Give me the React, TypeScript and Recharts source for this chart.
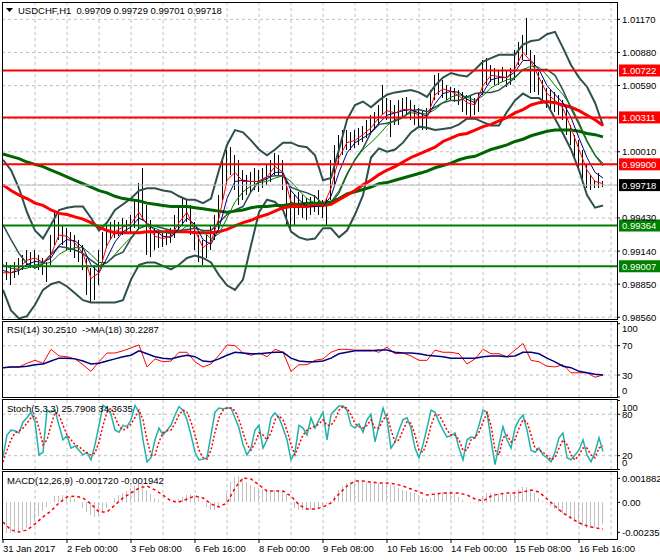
import {
  Bar,
  CartesianGrid,
  ComposedChart,
  Line,
  ReferenceLine,
  XAxis,
  YAxis
} from "recharts";

const FONT = "'Liberation Sans', Arial, sans-serif";

// H1 bars, one every 2 hours (bar index i = 2 * j)
const barHigh = [
  0.99105, 0.99044, 0.99018, 0.99044, 0.99079, 0.99105, 0.99149, 0.99131, 0.99149, 0.99105,
  0.99079, 0.99044, 0.9928, 0.995, 0.99456, 0.99368, 0.99342, 0.99307, 0.9928, 0.99237,
  0.99193, 0.99079, 0.98991, 0.99018, 0.99149, 0.99307, 0.99368, 0.99394, 0.99412, 0.99394,
  0.99429, 0.99412, 0.99456, 0.99587, 0.99736, 0.99867, 0.99543, 0.99412, 0.99342, 0.99324,
  0.99307, 0.99324, 0.99342, 0.99456, 0.99543, 0.99605, 0.99587, 0.99543, 0.99394, 0.9928,
  0.99237, 0.9928, 0.99368, 0.99456, 0.99631, 0.99937, 1.00025, 1.00052, 0.99981, 0.99937,
  0.9985, 0.99806, 0.99832, 0.99867, 0.9985, 0.99867, 0.99894, 0.99937, 0.99999, 0.99981,
  0.99937, 0.99762, 0.99675, 0.99631, 0.99657, 0.99631, 0.99605, 0.99613, 0.99631, 0.99675,
  0.99587, 0.99605, 0.99937, 1.00069, 1.00156, 1.002, 1.002, 1.00183, 1.002, 1.00218,
  1.00235, 1.00288, 1.00332, 1.00358, 1.00419, 1.00594, 1.00481, 1.00463, 1.00419, 1.00463,
  1.00481, 1.00489, 1.00463, 1.00419, 1.00393, 1.00375, 1.00393, 1.00551, 1.00682, 1.007,
  1.00638, 1.00594, 1.00577, 1.00568, 1.00551, 1.00533, 1.00507, 1.00507, 1.00481, 1.00524,
  1.00813, 1.00831, 1.0077, 1.00743, 1.00726, 1.00752, 1.00726, 1.00743, 1.00901, 1.00971,
  1.01032, 1.01181, 1.00901, 1.00857, 1.00708, 1.00638, 1.00568, 1.00551, 1.00533, 1.00507,
  1.00463, 1.00419, 1.00244, 1.00156, 1.00113, 1.00025, 0.99894, 0.99806, 0.99762, 0.99824,
  0.99753
];
const barLow = [
  0.98842, 0.98886, 0.98842, 0.98904, 0.9893, 0.98974, 0.99009, 0.98991, 0.99018, 0.98974,
  0.9893, 0.98869, 0.99018, 0.99193, 0.99237, 0.99193, 0.99149, 0.99131, 0.99079, 0.99044,
  0.98974, 0.98755, 0.98693, 0.98711, 0.98842, 0.99044, 0.99166, 0.99237, 0.99254, 0.99272,
  0.9928, 0.99289, 0.99307, 0.99342, 0.99324, 0.99412, 0.99105, 0.99088, 0.99149, 0.99166,
  0.99175, 0.99193, 0.9921, 0.99254, 0.99324, 0.99368, 0.99394, 0.9928, 0.99149, 0.99044,
  0.99018, 0.99079, 0.99149, 0.99237, 0.99324, 0.99587, 0.99718, 0.99806, 0.99675, 0.99543,
  0.99587, 0.99631, 0.99657, 0.99675, 0.99657, 0.99692, 0.99718, 0.99745, 0.99806, 0.99806,
  0.99675, 0.99368, 0.99324, 0.99368, 0.99456, 0.99429, 0.99412, 0.99456, 0.99482, 0.99456,
  0.99429, 0.99368, 0.99587, 0.99718, 0.99894, 0.99981, 1.00025, 1.00025, 1.00043, 1.00069,
  1.00095, 1.0013, 1.00156, 1.002, 1.00244, 1.00332, 1.00288, 1.00139, 1.00244, 1.00244,
  1.00305, 1.00332, 1.00288, 1.00244, 1.00218, 1.002, 1.002, 1.00358, 1.00463, 1.00507,
  1.00481, 1.00463, 1.00463, 1.00446, 1.00419, 1.00358, 1.00332, 1.00314, 1.00332, 1.00358,
  1.00507, 1.00594, 1.00621, 1.00594, 1.00594, 1.00621, 1.00577, 1.00594, 1.00638, 1.0077,
  1.00813, 1.00857, 1.00524, 1.00533, 1.00507, 1.00463, 1.00393, 1.00358, 1.00358, 1.00332,
  1.00288, 1.00156, 1.00069, 0.99937, 0.9985, 0.99736, 0.99692, 0.99675, 0.99692, 0.99692,
  0.99701
];

// indicator lines, one value every 4 hours (i = 4 * k)
const fastMa = [
  0.9895, 0.9895, 0.9899, 0.9906, 0.9908, 0.9904, 0.9911, 0.9928, 0.9927, 0.9921,
  0.9912, 0.989, 0.9895, 0.9919, 0.9931, 0.9935, 0.9938, 0.9948, 0.9937, 0.9927,
  0.9925, 0.9927, 0.9939, 0.9948, 0.9932, 0.9917, 0.9922, 0.9943, 0.9976, 0.9983,
  0.9975, 0.9975, 0.9975, 0.9979, 0.9988, 0.9983, 0.9957, 0.9954, 0.9953, 0.9954,
  0.9953, 0.9969, 0.9996, 1.0009, 1.0011, 1.0016, 1.0022, 1.0031, 1.0037, 1.0035,
  1.0038, 1.0038, 1.0032, 1.0031, 1.0051, 1.0056, 1.0054, 1.005, 1.0044, 1.0042,
  1.0059, 1.0068, 1.0067, 1.0066, 1.0074, 1.0088, 1.008, 1.0066, 1.0052, 1.0046,
  1.0039, 1.0022, 1.0003, 0.9985, 0.9975, 0.9973
];
const midMa = [
  0.9897, 0.9895, 0.9897, 0.9902, 0.9905, 0.9904, 0.9908, 0.9919, 0.9924, 0.9923,
  0.9917, 0.9902, 0.9895, 0.9908, 0.9922, 0.9931, 0.9935, 0.9943, 0.9939, 0.9932,
  0.9927, 0.9926, 0.9934, 0.9943, 0.9937, 0.9924, 0.992, 0.9934, 0.996, 0.9975,
  0.9976, 0.9975, 0.9975, 0.9977, 0.9983, 0.9983, 0.9967, 0.9959, 0.9953, 0.9953,
  0.9953, 0.9962, 0.9983, 1.0, 1.0009, 1.0013, 1.0018, 1.0026, 1.0033, 1.0035,
  1.0037, 1.0038, 1.0035, 1.0032, 1.0043, 1.0052, 1.0054, 1.0053, 1.0047, 1.0044,
  1.0053, 1.0064, 1.0066, 1.0066, 1.0071, 1.0081, 1.0081, 1.0073, 1.0059, 1.0051,
  1.0044, 1.0031, 1.0013, 0.9996, 0.9983, 0.9978
];
const slowMa = [
  0.9902, 0.9899, 0.9898, 0.9899, 0.9902, 0.9903, 0.9904, 0.9911, 0.9915, 0.9917,
  0.9917, 0.9911, 0.9904, 0.9904, 0.9911, 0.9919, 0.9926, 0.9934, 0.9936, 0.9934,
  0.9931, 0.9929, 0.9931, 0.9936, 0.9936, 0.9931, 0.9925, 0.9929, 0.9943, 0.9957,
  0.9966, 0.9971, 0.9974, 0.9975, 0.9978, 0.998, 0.9975, 0.9967, 0.996, 0.9956,
  0.9953, 0.9957, 0.9967, 0.9982, 0.9994, 1.0003, 1.0009, 1.0016, 1.0024, 1.0029,
  1.0032, 1.0035, 1.0035, 1.0034, 1.0038, 1.0044, 1.0049, 1.0051, 1.0049, 1.0046,
  1.005, 1.0057, 1.0061, 1.0064, 1.0066, 1.0073, 1.0076, 1.0075, 1.0068, 1.0059,
  1.0051, 1.0041, 1.0027, 1.0011, 0.9998, 0.9991
];
const bandUpper = [
  0.9994, 0.9985, 0.9969, 0.9948, 0.9932, 0.9925, 0.9937, 0.995, 0.9952, 0.9953,
  0.9953, 0.9943, 0.9932, 0.9939, 0.995, 0.9955, 0.996, 0.9967, 0.9969, 0.9969,
  0.9967, 0.9966, 0.9962, 0.9959, 0.9959, 0.9956, 0.996, 0.9985, 1.0007, 1.002,
  1.0018, 1.0011, 1.0003, 0.9998, 1.0003, 1.0009, 1.0009, 1.0006, 1.0005, 0.9998,
  0.9976, 0.9978, 1.0003, 1.0029, 1.0042, 1.0045, 1.004, 1.0046, 1.0051, 1.0053,
  1.0054, 1.0055, 1.0053, 1.0049, 1.0059, 1.0066, 1.007, 1.0068, 1.0067, 1.0073,
  1.008, 1.0083, 1.0086, 1.0086, 1.0086, 1.0095, 1.0098, 1.0099, 1.0104, 1.0106,
  1.0092, 1.0077, 1.0066, 1.0058, 1.0044, 1.0024
];
const bandMiddle = [
  0.9937, 0.9924, 0.9912, 0.9903, 0.9899, 0.9903, 0.9911, 0.9918, 0.9917, 0.9915,
  0.9912, 0.9906, 0.9901, 0.9904, 0.991, 0.9913, 0.9925, 0.9934, 0.9937, 0.9936,
  0.9934, 0.9932, 0.9932, 0.9933, 0.9934, 0.9932, 0.9932, 0.9939, 0.9946, 0.995,
  0.9953, 0.9966, 0.9975, 0.9979, 0.998, 0.998, 0.997, 0.9967, 0.9965, 0.9962,
  0.9955, 0.9956, 0.9965, 0.9981, 0.9994, 1.0004, 1.0018, 1.0025, 1.0026, 1.0028,
  1.0031, 1.0037, 1.0038, 1.0036, 1.004, 1.0044, 1.0046, 1.0046, 1.0049, 1.0052,
  1.0053, 1.0053, 1.0055, 1.006, 1.0066, 1.0073, 1.0073, 1.0073, 1.0073, 1.0068,
  1.0055, 1.0039, 1.0025, 1.001, 0.9998, 0.9989
];
const bandLower = [
  0.988, 0.9862, 0.9855, 0.9857, 0.9867, 0.988, 0.9885, 0.9887, 0.9883, 0.9877,
  0.9871, 0.9869, 0.9869, 0.9869, 0.9869, 0.9871, 0.9889, 0.9902, 0.9904, 0.9904,
  0.9901, 0.9898, 0.9902, 0.9908, 0.991, 0.9908, 0.9904, 0.9893, 0.9884, 0.988,
  0.9889, 0.9919, 0.9948, 0.9959, 0.9957, 0.995, 0.9931, 0.9926, 0.9924, 0.9925,
  0.9934, 0.9934, 0.9926, 0.9932, 0.9946, 0.9963, 0.9996, 1.0004, 1.0001, 1.0003,
  1.0009, 1.0018, 1.0023, 1.0022, 1.002, 1.0021, 1.0022, 1.0025, 1.003, 1.003,
  1.0027, 1.0024, 1.0024, 1.0036, 1.0046, 1.0052, 1.0048, 1.0048, 1.0043, 1.003,
  1.0017, 1.0003, 0.9985, 0.9963, 0.9952, 0.9954
];
const ma100 = [
  0.9972, 0.9967, 0.9963, 0.996, 0.9956, 0.9954, 0.995, 0.9947, 0.9946, 0.9944,
  0.9942, 0.9939, 0.9935, 0.9932, 0.993, 0.993, 0.993, 0.993, 0.9931, 0.9931,
  0.9931, 0.9931, 0.9931, 0.9931, 0.993, 0.993, 0.993, 0.9931, 0.9933, 0.9936,
  0.9939, 0.9941, 0.9944, 0.9946, 0.9949, 0.9952, 0.9953, 0.9953, 0.9953, 0.9954,
  0.9954, 0.9955, 0.9959, 0.9963, 0.9967, 0.9972, 0.9976, 0.9981, 0.9985, 0.9988,
  0.9992, 0.9996, 0.9999, 1.0002, 1.0005, 1.001, 1.0013, 1.0016, 1.0017, 1.002,
  1.0023, 1.0025, 1.0028, 1.0031, 1.0035, 1.0038, 1.0042, 1.0044, 1.0045, 1.0044,
  1.0042, 1.004, 1.0037, 1.0033, 1.0029, 1.0024
];
const ma200 = [
  0.9999, 0.9997, 0.9995, 0.9992, 0.999, 0.9988, 0.9985, 0.9982, 0.9979, 0.9976,
  0.9973, 0.997, 0.9967, 0.9965, 0.9962, 0.996, 0.9959, 0.9958, 0.9956, 0.9955,
  0.9954, 0.9953, 0.9953, 0.9953, 0.9952, 0.9951, 0.995, 0.9949, 0.9948, 0.9949,
  0.995, 0.9952, 0.9953, 0.9953, 0.9954, 0.9954, 0.9955, 0.9955, 0.9956, 0.9956,
  0.9956, 0.9957, 0.996, 0.9964, 0.9966, 0.9968, 0.997, 0.9973, 0.9974, 0.9976,
  0.9978, 0.998, 0.9982, 0.9984, 0.9987, 0.9989, 0.9991, 0.9994, 0.9996, 0.9997,
  1.0, 1.0003, 1.0005, 1.0007, 1.001, 1.0012, 1.0015, 1.0017, 1.0019, 1.002,
  1.002, 1.002, 1.0019, 1.0017, 1.0016, 1.0014
];

const rsiValues = [
  40, 41, 41, 46, 50, 46, 65, 56, 55, 52, 44, 35, 48, 60, 60, 63, 67, 71, 41, 52,
  48, 49, 61, 61, 48, 41, 45, 57, 71, 70, 60, 57, 60, 55, 65, 61, 35, 44, 44, 50,
  52, 61, 65, 65, 64, 64, 64, 61, 68, 59, 60, 56, 50, 50, 64, 61, 61, 59, 45, 52,
  65, 59, 59, 55, 64, 73, 50, 48, 42, 41, 44, 33, 33, 33, 27, 30
];
const rsiMa = [
  40, 41, 41, 42, 44, 45, 49, 53, 53, 52, 49, 45, 46, 49, 52, 55, 57, 63, 59, 55,
  53, 52, 55, 57, 55, 49, 48, 52, 57, 61, 60, 59, 59, 60, 61, 61, 53, 49, 48, 48,
  49, 53, 59, 61, 63, 63, 63, 64, 64, 61, 60, 60, 59, 57, 56, 55, 53, 53, 53, 53,
  55, 56, 56, 55, 56, 61, 61, 59, 53, 48, 42, 40, 35, 33, 31, 30
];

// every 2 hours
const stochK = [
  18, 50, 57, 56, 53, 69, 75, 83, 69, 21, 25, 86, 83, 86, 64, 43, 49, 31, 34, 28,
  21, 25, 14, 36, 64, 93, 89, 80, 57, 54, 64, 62, 72, 93, 83, 43, 11, 17, 43, 60,
  50, 57, 64, 79, 91, 86, 72, 50, 25, 14, 15, 17, 50, 83, 89, 88, 89, 89, 75, 60,
  36, 21, 31, 57, 64, 31, 43, 75, 82, 75, 60, 43, 14, 25, 64, 60, 50, 75, 60, 72,
  83, 43, 80, 86, 92, 92, 86, 64, 60, 66, 54, 72, 80, 40, 64, 89, 72, 31, 40, 57,
  72, 75, 60, 31, 17, 36, 60, 86, 83, 69, 57, 47, 49, 53, 31, 14, 43, 47, 46, 64,
  86, 83, 43, 7, 36, 62, 43, 31, 60, 72, 79, 57, 28, 25, 31, 21, 17, 11, 25, 46,
  53, 17, 14, 21, 28, 43, 21, 11, 25, 46, 26
];
const stochD = [
  11, 28, 43, 53, 56, 60, 67, 75, 78, 60, 36, 43, 64, 83, 79, 64, 50, 43, 36, 33,
  28, 24, 21, 24, 40, 64, 83, 89, 76, 63, 57, 60, 66, 75, 86, 72, 43, 21, 21, 40,
  53, 56, 57, 67, 79, 86, 83, 69, 50, 28, 17, 15, 28, 54, 75, 86, 89, 89, 85, 72,
  54, 36, 28, 38, 53, 50, 43, 53, 72, 78, 72, 57, 36, 21, 36, 50, 57, 60, 63, 66,
  72, 64, 64, 72, 86, 91, 89, 79, 67, 62, 60, 64, 72, 60, 60, 72, 79, 57, 40, 43,
  57, 69, 67, 50, 28, 25, 40, 64, 79, 79, 69, 57, 50, 50, 43, 28, 28, 43, 46, 54,
  69, 82, 64, 28, 21, 46, 50, 40, 43, 60, 72, 69, 50, 31, 28, 25, 20, 14, 17, 31,
  43, 36, 21, 14, 21, 31, 31, 21, 17, 31, 34
];

const macdHist = [
  -0.00241, -0.00241, -0.00241, -0.00241, -0.00233, -0.00217, -0.00202, -0.00178, -0.00147, -0.00108,
  -0.00068, -0.00037, 0.00002, 0.00049, 0.00049, 0.00057, 0.00057, 0.00042, 0.00026, 0.00002,
  -0.00045, -0.00076, -0.001, -0.00115, -0.00108, -0.00076, -0.00045, -0.00005, 0.00034, 0.00057,
  0.00073, 0.00089, 0.00112, 0.00128, 0.00152, 0.00144, 0.00097, 0.00065, 0.00034, 0.00018,
  0.00002, 0.00002, 0.00002, 0.0001, 0.00026, 0.00042, 0.00057, 0.00065, 0.00057, 0.00042,
  0.0001, -0.00037, -0.0006, -0.0006, -0.00037, 0.00002, 0.00073, 0.00159, 0.00199, 0.00206,
  0.00191, 0.00159, 0.00136, 0.0012, 0.00112, 0.00104, 0.00097, 0.00097, 0.00097, 0.00097,
  0.00089, 0.00065, 0.00002, -0.00045, -0.0006, -0.0006, -0.0006, -0.0006, -0.0006, -0.00053,
  -0.00037, -0.00013, 0.0001, 0.00049, 0.00097, 0.00128, 0.00152, 0.00159, 0.00167, 0.00167,
  0.00159, 0.00159, 0.00159, 0.00152, 0.00152, 0.00144, 0.00144, 0.00136, 0.00128, 0.00112,
  0.00097, 0.00089, 0.00081, 0.00073, 0.00057, 0.00034, 0.00018, 0.00034, 0.00057, 0.00073,
  0.00081, 0.00081, 0.00073, 0.00065, 0.00042, 0.00018, 0.00002, 0.00002, 0.00002, 0.0001,
  0.00049, 0.00073, 0.00073, 0.00073, 0.00065, 0.00065, 0.00057, 0.00065, 0.00081, 0.00104,
  0.0012, 0.0012, 0.00097, 0.00073, 0.00034, 0.0001, -0.00005, -0.00029, -0.00053, -0.00068,
  -0.00084, -0.001, -0.00131, -0.00155, -0.0017, -0.00186, -0.00202, -0.00202, -0.00198, -0.0019,
  -0.00172
];
const macdSignal = [
  -0.00155, -0.00217, -0.00233, -0.00217, -0.0017, -0.00115, -0.00068, -0.00005, 0.00042, 0.00049,
  0.00034, -0.00013, -0.00076, -0.00076, -0.00021, 0.00034, 0.00073, 0.00112, 0.00128, 0.00097,
  0.00057, 0.0001, 0.00002, 0.00026, 0.00049, 0.00034, -0.00013, -0.00037, -0.00005, 0.00112,
  0.00191, 0.00183, 0.00136, 0.00089, 0.00089, 0.00089, 0.00049, -0.00021, -0.00053, -0.00053,
  -0.00037, -0.00005, 0.00065, 0.00128, 0.00167, 0.00167, 0.00159, 0.00152, 0.00152, 0.00144,
  0.00128, 0.00104, 0.00081, 0.00057, 0.00065, 0.00073, 0.00073, 0.00073, 0.00057, 0.00026,
  0.0001, 0.00049, 0.00065, 0.00073, 0.00073, 0.00081, 0.00097, 0.00081, 0.00026, -0.00029,
  -0.00084, -0.00123, -0.00162, -0.00185, -0.002, -0.0021
];

const redLevels = [1.00722, 1.00311, 0.999];
const greenLevels = [0.99364, 0.99007];
const lastPrice = 0.99718;

const priceTicks = [0.9856, 0.9885, 0.9914, 0.9943, 1.0001, 1.0059, 1.0088, 1.0117];
const priceGrid = [0.9856, 0.9885, 0.9914, 0.9943, 0.9972, 1.0001, 1.003, 1.0059, 1.0088, 1.0117];
const macdTicks = [-0.002356, 0, 0.001882];
const timeTicks = [0, 32, 64, 96, 128, 160, 192, 224, 256, 288];
const timeLabels = [
  "31 Jan 2017", "2 Feb 00:00", "3 Feb 08:00", "6 Feb 16:00", "8 Feb 00:00",
  "9 Feb 08:00", "10 Feb 16:00", "14 Feb 00:00", "15 Feb 08:00", "16 Feb 16:00"
];
const gridX = [16, 32, 48, 64, 80, 96, 112, 128, 144, 160, 176, 192, 208, 224, 240, 256, 272, 288, 304];

const mainRows = barHigh.map((high, j) => {
  const k = j / 2;
  const even = j % 2 === 0;
  return {
    i: j * 2,
    range: [barLow[j], high],
    fast: even ? fastMa[k] : undefined,
    mid: even ? midMa[k] : undefined,
    slow: even ? slowMa[k] : undefined,
    up: even ? bandUpper[k] : undefined,
    bm: even ? bandMiddle[k] : undefined,
    low: even ? bandLower[k] : undefined,
    m100: even ? ma100[k] : undefined,
    m200: even ? ma200[k] : undefined
  };
});
const rsiRows = rsiValues.map((v, k) => ({ i: k * 4, rsi: v, ma: rsiMa[k] }));
const stochRows = stochK.map((v, j) => ({ i: j * 2, k: v, d: stochD[j] }));
const macdRows = macdHist.map((v, j) => ({
  i: j * 2,
  hist: v,
  sig: j % 2 === 0 ? macdSignal[j / 2] : undefined
}));

const X_DOMAIN: [number, number] = [-0.5, 307];

function AxisText(props: any) {
  const { x, y, payload, format, minY, maxY } = props;
  let ty = y;
  if (minY !== undefined) ty = Math.max(minY, Math.min(maxY, y));
  return (
    <text x={x} y={ty + 3.5} fontSize={9.5} fontFamily={FONT} fill="#000">
      {format(payload.value)}
    </text>
  );
}

function TimeTick(props: any) {
  const { x, y, payload } = props;
  const idx = timeTicks.indexOf(payload.value);
  return (
    <g>
      <line x1={x} x2={x} y1={y} y2={y + 4} stroke="#000" />
      <text x={x} y={y + 13} fontSize={9.5} fontFamily={FONT} fill="#000" textAnchor="start">
        {timeLabels[idx]}
      </text>
    </g>
  );
}

function Tag(props: any) {
  const { viewBox, bg, text } = props;
  if (!viewBox) return null;
  const x = viewBox.x + viewBox.width + 2;
  const y = viewBox.y;
  return (
    <g>
      <rect x={x} y={y - 6} width={42} height={12} fill={bg} />
      <text x={x + 3} y={y + 3.5} fill="#fff" fontSize={9.5} fontFamily={FONT}>
        {text}
      </text>
    </g>
  );
}

function MainChart() {
  return (
    <ComposedChart width={660} height={322} data={mainRows} margin={{ top: 2, right: 0, bottom: 3, left: 2 }}>
      <CartesianGrid stroke="#c0c0c0" strokeDasharray="3 3" horizontalValues={priceGrid} verticalValues={gridX} />
      <XAxis dataKey="i" type="number" domain={X_DOMAIN} allowDataOverflow hide ticks={gridX} />
      <YAxis
        orientation="right"
        width={43}
        type="number"
        domain={[0.98545, 1.01322]}
        allowDataOverflow
        ticks={priceTicks}
        interval={0}
        tickSize={3}
        tickLine={{ stroke: "#000" }}
        axisLine={false}
        tick={<AxisText format={(v: number) => v.toFixed(5)} />}
      />
      <Bar dataKey="range" fill="#000" barSize={1} isAnimationActive={false} />
      <Line dataKey="up" stroke="#2f4f4f" strokeWidth={2} dot={false} connectNulls isAnimationActive={false} />
      <Line dataKey="bm" stroke="#2f4f4f" strokeWidth={1.5} dot={false} connectNulls isAnimationActive={false} />
      <Line dataKey="low" stroke="#2f4f4f" strokeWidth={2} dot={false} connectNulls isAnimationActive={false} />
      <Line dataKey="m200" stroke="#006400" strokeWidth={3} dot={false} connectNulls isAnimationActive={false} />
      <Line dataKey="m100" stroke="#ff0000" strokeWidth={3} dot={false} connectNulls isAnimationActive={false} />
      <Line dataKey="slow" stroke="#008000" strokeWidth={1} dot={false} connectNulls isAnimationActive={false} />
      <Line dataKey="mid" stroke="#000080" strokeWidth={1} dot={false} connectNulls isAnimationActive={false} />
      <Line dataKey="fast" stroke="#ff0000" strokeWidth={1} dot={false} connectNulls isAnimationActive={false} />
      <ReferenceLine y={lastPrice} stroke="#c0c0c0" label={<Tag bg="#000" text={lastPrice.toFixed(5)} />} />
      {redLevels.map((v) => (
        <ReferenceLine key={v} y={v} stroke="#ff0000" strokeWidth={2} label={<Tag bg="#ff0000" text={v.toFixed(5)} />} />
      ))}
      {greenLevels.map((v) => (
        <ReferenceLine key={v} y={v} stroke="#008000" strokeWidth={2} label={<Tag bg="#008000" text={v.toFixed(5)} />} />
      ))}
    </ComposedChart>
  );
}

function RsiChart() {
  return (
    <ComposedChart width={660} height={80} data={rsiRows} margin={{ top: 2, right: 0, bottom: 3, left: 2 }}>
      <CartesianGrid stroke="#c0c0c0" strokeDasharray="3 3" horizontalValues={[30, 70]} verticalValues={gridX} />
      <XAxis dataKey="i" type="number" domain={X_DOMAIN} allowDataOverflow hide ticks={gridX} />
      <YAxis
        orientation="right"
        width={43}
        type="number"
        domain={[0, 102.3]}
        ticks={[0, 30, 70, 100]}
        interval={0}
        tickSize={3}
        tickLine={{ stroke: "#000" }}
        axisLine={false}
        tick={<AxisText format={(v: number) => String(v)} minY={8} maxY={70} />}
      />
      <Line dataKey="rsi" stroke="#ff0000" strokeWidth={1} dot={false} isAnimationActive={false} />
      <Line dataKey="ma" stroke="#000080" strokeWidth={1.5} dot={false} isAnimationActive={false} />
    </ComposedChart>
  );
}

function StochChart() {
  return (
    <ComposedChart width={660} height={73} data={stochRows} margin={{ top: 2, right: 0, bottom: 2, left: 2 }}>
      <CartesianGrid stroke="#c0c0c0" strokeDasharray="3 3" horizontalValues={[20, 80]} verticalValues={gridX} />
      <XAxis dataKey="i" type="number" domain={X_DOMAIN} allowDataOverflow hide ticks={gridX} />
      <YAxis
        orientation="right"
        width={43}
        type="number"
        domain={[0.7, 100.7]}
        ticks={[0, 20, 80, 100]}
        interval={0}
        tickSize={3}
        tickLine={{ stroke: "#000" }}
        axisLine={false}
        tick={<AxisText format={(v: number) => String(v)} minY={9} maxY={64} />}
      />
      <Line dataKey="k" stroke="#20b2aa" strokeWidth={1.5} dot={false} isAnimationActive={false} />
      <Line dataKey="d" stroke="#ff0000" strokeWidth={1.5} strokeDasharray="2 2" dot={false} isAnimationActive={false} />
    </ComposedChart>
  );
}

function MacdChart() {
  const fmt = (v: number) => (v === 0 ? "0.00" : v.toFixed(6));
  return (
    <ComposedChart width={660} height={90} data={macdRows} margin={{ top: 2, right: 0, bottom: 0, left: 2 }}>
      <CartesianGrid stroke="#c0c0c0" strokeDasharray="3 3" horizontal={false} verticalValues={gridX} />
      <XAxis
        dataKey="i"
        type="number"
        domain={X_DOMAIN}
        allowDataOverflow
        ticks={timeTicks}
        interval={0}
        height={21}
        tickSize={0}
        tickMargin={0}
        axisLine={false}
        tickLine={false}
        tick={<TimeTick />}
      />
      <YAxis
        orientation="right"
        width={43}
        type="number"
        domain={[-0.002881, 0.002379]}
        allowDataOverflow
        ticks={macdTicks}
        interval={0}
        tickSize={3}
        tickLine={{ stroke: "#000" }}
        axisLine={false}
        tick={<AxisText format={fmt} />}
      />
      <Bar dataKey="hist" fill="#c0c0c0" barSize={1} isAnimationActive={false} />
      <Line dataKey="sig" stroke="#ff0000" strokeWidth={1.5} strokeDasharray="3 3" dot={false} connectNulls isAnimationActive={false} />
    </ComposedChart>
  );
}

const frame = (top: number, height: number) => ({
  position: "absolute" as const,
  left: 2,
  top,
  width: 616,
  height,
  border: "1px solid #000",
  boxSizing: "border-box" as const,
  pointerEvents: "none" as const
});

const caption = (top: number) => ({
  position: "absolute" as const,
  left: 7,
  top,
  fontSize: 9.5,
  lineHeight: "12px",
  whiteSpace: "pre" as const,
  color: "#000"
});

export default function App() {
  return (
    <div
      style={{
        position: "absolute",
        left: 0,
        top: 0,
        width: 660,
        height: 560,
        background: "#fff",
        overflow: "hidden",
        fontFamily: FONT
      }}
    >
      <div style={{ position: "absolute", left: 0, top: 0 }}>
        <MainChart />
      </div>
      <div style={{ position: "absolute", left: 0, top: 320 }}>
        <RsiChart />
      </div>
      <div style={{ position: "absolute", left: 0, top: 398 }}>
        <StochChart />
      </div>
      <div style={{ position: "absolute", left: 0, top: 470 }}>
        <MacdChart />
      </div>

      <div style={frame(2, 318)} />
      <div style={frame(321, 77)} />
      <div style={frame(399, 71)} />
      <div style={frame(471, 69)} />

      <svg style={{ position: "absolute", left: 6, top: 8 }} width={8} height={6}>
        <polygon points="0,0 7,0 3.5,4" fill="#000" />
      </svg>
      <div style={{ ...caption(5), left: 18 }}>USDCHF,H1  0.99709 0.99729 0.99701 0.99718</div>
      <div style={caption(324)}>RSI(14) 30.2510  -&gt;MA(18) 30.2287</div>
      <div style={caption(403)}>Stoch(5,3,3) 25.7908 34.3635</div>
      <div style={caption(475)}>MACD(12,26,9) -0.001720 -0.001942</div>
    </div>
  );
}
